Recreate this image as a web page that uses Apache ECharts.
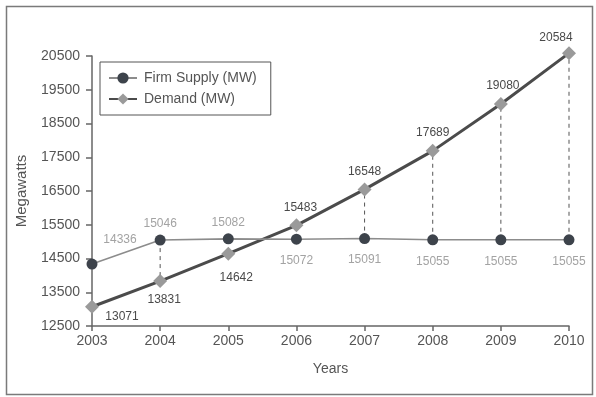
<!DOCTYPE html>
<html>
<head>
<meta charset="utf-8">
<script src="https://cdn.jsdelivr.net/npm/echarts@6/dist/echarts.min.js"></script>
<style>
  html, body { margin: 0; padding: 0; background: #fff; }
  #chart { width: 596px; height: 397px; }
</style>
</head>
<body>
<div id="chart"></div>
<script>
// Data
const years = ['2003', '2004', '2005', '2006', '2007', '2008', '2009', '2010'];
const firmSupply = [14336, 15046, 15082, 15072, 15091, 15055, 15055, 15055];
const demand = [13071, 13831, 14642, 15483, 16548, 17689, 19080, 20584];
const yTicks = [12500, 13500, 14500, 15500, 16500, 17500, 18500, 19500, 20500];
// Years where a dashed drop line joins the two series
const gapYears = ['2004', '2007', '2008', '2009', '2010'];

const FONT = 'Liberation Sans, Arial, sans-serif';

// Label placement per point
const supplyLabelPos = [
  { position: 'top', offset: [28, -3] },
  { position: 'top', offset: [0, 5] },
  { position: 'top', offset: [0, 5] },
  { position: 'bottom' },
  { position: 'bottom' },
  { position: 'bottom' },
  { position: 'bottom' },
  { position: 'bottom' }
];
const demandLabelPos = [
  { position: 'bottom', offset: [30, -8] },
  { position: 'bottom', offset: [4, 1] },
  { position: 'bottom', offset: [8, 6] },
  { position: 'top', offset: [4, 0] },
  { position: 'top' },
  { position: 'top' },
  { position: 'top', offset: [2, 0] },
  { position: 'top', offset: [-13, 3] }
];

const supplyData = firmSupply.map((v, i) => ({ value: v, label: supplyLabelPos[i] }));
const demandData = demand.map((v, i) => ({ value: v, label: demandLabelPos[i] }));

// [year index, supply, demand] for each drop line
const dropData = gapYears.map(y => {
  const i = years.indexOf(y);
  return [i, firmSupply[i], demand[i]];
});

const chart = echarts.init(document.getElementById('chart'), null, { renderer: 'canvas' });

chart.setOption({
  backgroundColor: '#ffffff',
  animation: false,
  textStyle: { fontFamily: FONT },
  graphic: [{
    type: 'rect',
    shape: { x: 6.5, y: 6.5, width: 586, height: 388 },
    style: { fill: 'none', stroke: '#7a7a7a', lineWidth: 1.5 },
    silent: true,
    z: -1
  }],
  grid: { left: 92, right: 27, top: 56, bottom: 71, containLabel: false },
  legend: {
    left: 100,
    top: 62,
    orient: 'vertical',
    padding: [9, 14, 9, 8],
    itemGap: 7,
    itemWidth: 28,
    itemHeight: 14,
    borderColor: '#555',
    borderWidth: 1,
    backgroundColor: '#fff',
    textStyle: { fontFamily: FONT, fontSize: 14, color: '#555', padding: [0, 0, 0, 2] },
    data: ['Firm Supply (MW)', 'Demand (MW)']
  },
  xAxis: {
    type: 'category',
    data: years,
    boundaryGap: false,
    name: 'Years',
    nameLocation: 'middle',
    nameGap: 36,
    nameTextStyle: { fontFamily: FONT, fontSize: 14, color: '#555' },
    axisLine: { lineStyle: { color: '#666', width: 1.5 } },
    axisTick: { show: true, length: 5, alignWithLabel: true, lineStyle: { color: '#666', width: 1.5 } },
    axisLabel: { fontFamily: FONT, fontSize: 14, color: '#555', margin: 8 },
    splitLine: { show: false }
  },
  yAxis: {
    type: 'value',
    min: yTicks[0],
    max: yTicks[yTicks.length - 1],
    interval: 1000,
    name: 'Megawatts',
    nameLocation: 'middle',
    nameGap: 63,
    nameRotate: 90,
    nameTextStyle: { fontFamily: FONT, fontSize: 15, color: '#555' },
    axisLine: { show: true, lineStyle: { color: '#666', width: 1.5 } },
    axisTick: { show: true, length: 6, lineStyle: { color: '#666', width: 1.5 } },
    axisLabel: { fontFamily: FONT, fontSize: 14, color: '#555', margin: 12, formatter: v => String(v) },
    splitLine: { show: false }
  },
  series: [
    {
      // dashed drop lines between supply and demand
      type: 'custom',
      clip: false,
      silent: true,
      data: dropData,
      renderItem: (params, api) => {
        const p1 = api.coord([api.value(0), api.value(1)]);
        const p2 = api.coord([api.value(0), api.value(2)]);
        return {
          type: 'line',
          shape: { x1: p1[0], y1: p1[1], x2: p2[0], y2: p2[1] },
          style: { stroke: '#555', lineWidth: 1, lineDash: [4, 4] }
        };
      },
      z: 1
    },
    {
      name: 'Firm Supply (MW)',
      type: 'line',
      data: supplyData,
      clip: false,
      symbol: 'circle',
      symbolSize: 11,
      lineStyle: { color: '#8c8c8c', width: 1.6 },
      itemStyle: { color: '#3d434b' },
      label: {
        show: true,
        distance: 10,
        fontFamily: FONT,
        fontSize: 12,
        color: '#a3a3a3'
      },
      z: 3
    },
    {
      name: 'Demand (MW)',
      type: 'line',
      data: demandData,
      clip: false,
      symbol: 'diamond',
      symbolSize: 14,
      lineStyle: { color: '#4b4b4b', width: 3 },
      itemStyle: { color: '#9a9a9a' },
      label: {
        show: true,
        distance: 5,
        fontFamily: FONT,
        fontSize: 12,
        color: '#4a4a4a'
      },
      z: 2
    }
  ]
});
</script>
</body>
</html>
